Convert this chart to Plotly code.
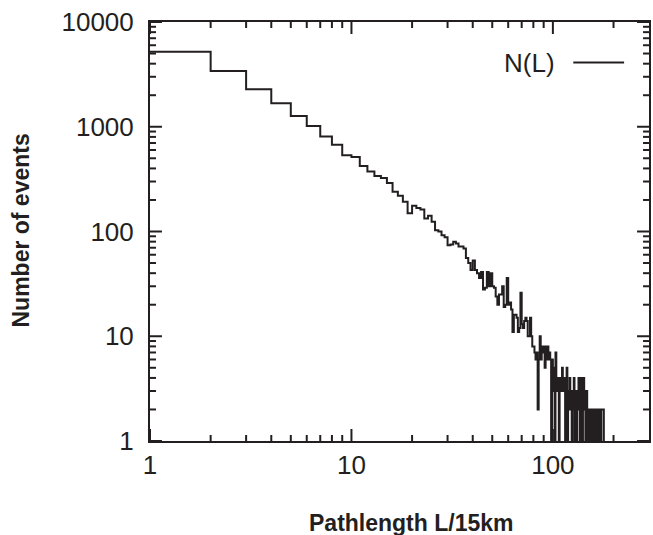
import plotly.graph_objects as go

# Bin lower edges (pathlength L in units of 15 km) and counts per bin
pathlength = list(range(1, 180))
counts = [
    5210, 3400, 2280, 1675, 1268, 1018, 805, 675, 535, 515,      # 1-10
    423, 373, 338, 325, 290, 240, 220, 192, 149, 176,            # 11-20
    168, 162, 133, 141, 124, 103, 100, 92, 88, 74,               # 21-30
    75, 80, 77, 72, 72, 69, 56, 50, 43, 53,                      # 31-40
    43, 40, 36, 41, 28, 29, 41, 30, 40, 30,                      # 41-50
    29, 24, 20, 25, 25, 30, 19, 20, 36, 20,                      # 51-60
    21, 18, 11, 16, 16, 15, 11, 12, 26, 13,                      # 61-70
    12, 14, 15, 14, 10, 10, 15, 10, 8, 8,                        # 71-80
    7, 6, 7, 2, 6, 10, 6, 7, 8, 8,                               # 81-90
    5, 8, 6, 8, 6, 7, 6, 1, 6, 5,                                # 91-100
    3, 1, 7, 3, 4, 3, 1, 4, 3, 4,                                # 101-110
    5, 3, 3, 4, 1, 3, 5, 1, 3, 2,                                # 111-120
    4, 3, 2, 1, 3, 2, 4, 1, 3, 2,                                # 121-130
    1, 3, 2, 4, 2, 1, 3, 4, 2, 1,                                # 131-140
    2, 4, 2, 3, 1, 2, 3, 2, 1, 2,                                # 141-150
    2, 1, 2, 2, 1, 2, 2, 1, 2, 1,                                # 151-160
    2, 2, 1, 2, 2, 1, 2, 2, 1, 2,                                # 161-170
    2, 2, 1, 2, 2, 2, 2, 2, 1,                                   # 171-179
]

x_tick_vals = [1, 10, 100]
x_tick_text = ["1", "10", "100"]
y_tick_vals = [1, 10, 100, 1000, 10000]
y_tick_text = ["1", "10", "100", "1000", "10000"]
x_minor = [2, 3, 4, 5, 6, 7, 8, 9, 20, 30, 40, 50, 60, 70, 80, 90, 200]
y_minor = [m * d for d in (1, 10, 100, 1000) for m in (2, 3, 4, 5, 6, 7, 8, 9)]

X_MIN, X_MAX = 1, 300
Y_MIN, Y_MAX = 1, 10000
X_RANGE = [0, 2.4771]
Y_RANGE = [0, 4]

INK = "#231f20"
FONT = "Liberation Sans, Arial, Helvetica, sans-serif"

# plot area: x 150..651 px, y 22..441 px
W, H = 653, 535
L, R, T, B = 150, 2, 22, 94
pw, ph = W - L - R, H - T - B
PX_PER_DEC_X = pw / X_RANGE[1]
PX_PER_DEC_Y = ph / Y_RANGE[1]
MAJOR_PX, MINOR_PX = 12, 6

fig = go.Figure()
fig.add_trace(go.Scatter(
    x=pathlength, y=counts, mode="lines", line_shape="hv",
    line=dict(color=INK, width=2), showlegend=False, name="N(L)",
    hoverinfo="skip",
))

# inward tick marks on all four sides (drawn through the log axes)
tx, ty = [], []
for vals, lpx in ((x_tick_vals, MAJOR_PX), (x_minor, MINOR_PX)):
    f = 10 ** (lpx / PX_PER_DEC_Y)
    for v in vals:
        tx += [v, v, None, v, v, None]
        ty += [Y_MIN, Y_MIN * f, None, Y_MAX, Y_MAX / f, None]
for vals, lpx in ((y_tick_vals, MAJOR_PX), (y_minor, MINOR_PX)):
    f = 10 ** (lpx / PX_PER_DEC_X)
    for v in vals:
        tx += [X_MIN, X_MIN * f, None, X_MAX, X_MAX / f, None]
        ty += [v, v, None, v, v, None]
fig.add_trace(go.Scatter(
    x=tx, y=ty, mode="lines", line=dict(color=INK, width=2),
    showlegend=False, hoverinfo="skip", connectgaps=False,
))

axis_common = dict(
    type="log", showgrid=False, zeroline=False,
    showline=True, linecolor=INK, linewidth=2, mirror=True,
    ticks="", tickfont=dict(family=FONT, size=26, color=INK),
)
fig.update_xaxes(**axis_common, range=X_RANGE, tickmode="array",
                 tickvals=x_tick_vals, ticktext=x_tick_text)
fig.update_yaxes(**axis_common, range=Y_RANGE, tickmode="array",
                 tickvals=y_tick_vals, ticktext=y_tick_text,
                 ticklabelstandoff=9)

def px(xp):
    return (xp - L) / pw

def py(yp):
    return (H - B - yp) / ph

fig.add_annotation(
    x=px(412), y=py(523), xref="paper", yref="paper",
    text="Pathlength L/15km", showarrow=False,
    font=dict(family=FONT, size=23, color=INK, weight="bold"),
    xanchor="center", yanchor="middle",
)
fig.add_annotation(
    x=px(20), y=py(231), xref="paper", yref="paper",
    text="Number of events", showarrow=False, textangle=-90,
    font=dict(family=FONT, size=23, color=INK, weight="bold"),
    xanchor="center", yanchor="middle",
)
# legend entry: label left, line sample right
fig.add_annotation(
    x=px(559), y=py(63), xref="paper", yref="paper",
    text="N(L)", showarrow=False,
    font=dict(family=FONT, size=26, color=INK),
    xanchor="right", yanchor="middle",
)
fig.add_shape(
    type="line", xref="paper", yref="paper",
    x0=px(575), x1=px(626), y0=py(62.5), y1=py(62.5),
    line=dict(color=INK, width=2),
)

fig.update_layout(
    width=W, height=H,
    margin=dict(l=L, r=R, t=T, b=B, pad=0),
    paper_bgcolor="white", plot_bgcolor="white",
    font=dict(family=FONT, color=INK),
)

fig.write_html(
    "out.html",
    config={"displayModeBar": False},
    post_script="document.body.style.margin='0';document.body.style.overflow='hidden';",
)
